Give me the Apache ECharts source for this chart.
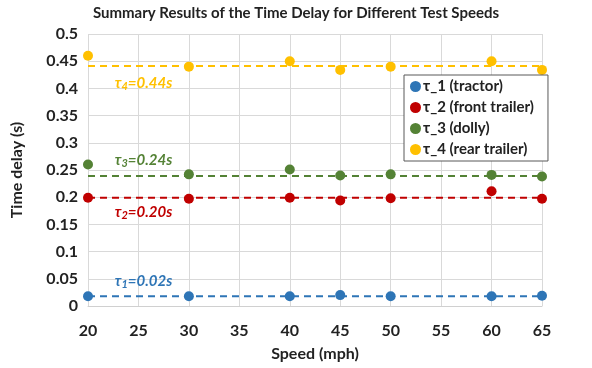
<!DOCTYPE html>
<html><head><meta charset="utf-8">
<script src="https://cdn.jsdelivr.net/npm/echarts@6/dist/echarts.min.js"></script>
<style>html,body{margin:0;padding:0;background:#fff}#c{width:592px;height:368px}</style>
</head><body><div id="c"></div>
<script>
const speeds = [20, 30, 40, 45, 50, 60, 65];
const tau1 = [0.018, 0.018, 0.018, 0.020, 0.018, 0.018, 0.019];
const tau2 = [0.199, 0.197, 0.199, 0.194, 0.198, 0.211, 0.197];
const tau3 = [0.260, 0.242, 0.251, 0.240, 0.242, 0.241, 0.238];
const tau4 = [0.460, 0.440, 0.450, 0.434, 0.440, 0.450, 0.434];
const means = [0.018, 0.199, 0.239, 0.441];
const meanLabels = ['0.02s', '0.20s', '0.24s', '0.44s'];
const names = ['τ_1 (tractor)', 'τ_2 (front trailer)', 'τ_3 (dolly)', 'τ_4 (rear trailer)'];
const colors = ['#2e75b6', '#c00000', '#548235', '#ffc000'];
const allSeries = [tau1, tau2, tau3, tau4];
const labelOffsets = [0.028, -0.027, 0.03, -0.031];
const FONT = 'Lato';

const series = [];
allSeries.forEach((vals, i) => {
  const xmin = speeds[0], xmax = speeds[speeds.length - 1];
  series.push({
    name: 'mean' + i, type: 'line', silent: true,
    data: [[xmin, means[i]], [xmax, means[i]]],
    symbol: 'none',
    lineStyle: { color: colors[i], width: 2, type: [7, 5] },
    z: 2,
    markPoint: {
      symbol: 'circle', symbolSize: 0,
      data: [{ coord: [25.5, means[i] + labelOffsets[i]] }],
      label: {
        show: true, position: 'inside',
        formatter: '{t|τ}{s|' + (i + 1) + '}{t|=' + meanLabels[i] + '}',
        rich: {
          t: { color: colors[i], fontFamily: FONT, fontWeight: 'bold', fontStyle: 'italic', fontSize: 15 },
          s: { color: colors[i], fontFamily: FONT, fontWeight: 'bold', fontStyle: 'italic', fontSize: 11, padding: [7, 0, 0, 0] }
        }
      }
    }
  });
});
allSeries.forEach((vals, i) => {
  series.push({
    name: names[i], type: 'scatter',
    data: speeds.map((s, k) => [s, vals[k]]),
    symbol: 'circle', symbolSize: 10,
    itemStyle: { color: colors[i], opacity: 1 },
    z: 3
  });
});

const chart = echarts.init(document.getElementById('c'), null, { renderer: 'canvas' });
chart.setOption({
  animation: false,
  backgroundColor: '#fff',
  title: {
    text: 'Summary Results of the Time Delay for Different Test Speeds',
    left: 'center', top: 1,
    textStyle: { fontFamily: FONT, fontWeight: 'bold', fontSize: 15, color: '#222' }
  },
  legend: {
    data: names.map((n, i) => ({ name: n, itemStyle: { color: colors[i] } })),
    orient: 'vertical', left: 404, top: 75,
    backgroundColor: '#fff', borderColor: '#595959', borderWidth: 1,
    padding: [4, 14, 4, 6], itemGap: 6, itemWidth: 11, itemHeight: 11, icon: 'circle',
    textStyle: { fontFamily: FONT, fontWeight: 'bold', fontSize: 15, color: '#222', padding: [0, 0, 0, -3] }
  },
  grid: { left: 88, right: 50, top: 34, bottom: 62 },
  xAxis: {
    type: 'value', min: 20, max: 65, interval: 5,
    name: 'Speed (mph)', nameLocation: 'middle', nameGap: 40,
    nameTextStyle: { fontFamily: FONT, fontWeight: 'bold', fontSize: 16, color: '#222' },
    axisLine: { show: true, lineStyle: { color: '#d0d0d0' } },
    axisTick: { show: false },
    axisLabel: { fontFamily: FONT, fontWeight: 'bold', fontSize: 16, color: '#222', margin: 17 },
    splitLine: { show: true, lineStyle: { color: '#d9d9d9' } }
  },
  yAxis: {
    type: 'value', min: 0, max: 0.5, interval: 0.05,
    name: 'Time delay (s)', nameLocation: 'middle', nameGap: 63, nameRotate: 90,
    nameTextStyle: { fontFamily: FONT, fontWeight: 'bold', fontSize: 16, color: '#222' },
    axisLine: { show: false }, axisTick: { show: false },
    axisLabel: { fontFamily: FONT, fontWeight: 'bold', fontSize: 16, color: '#222', margin: 10 },
    splitLine: { show: true, lineStyle: { color: '#d9d9d9' } }
  },
  series: series
});
</script>
</body></html>
